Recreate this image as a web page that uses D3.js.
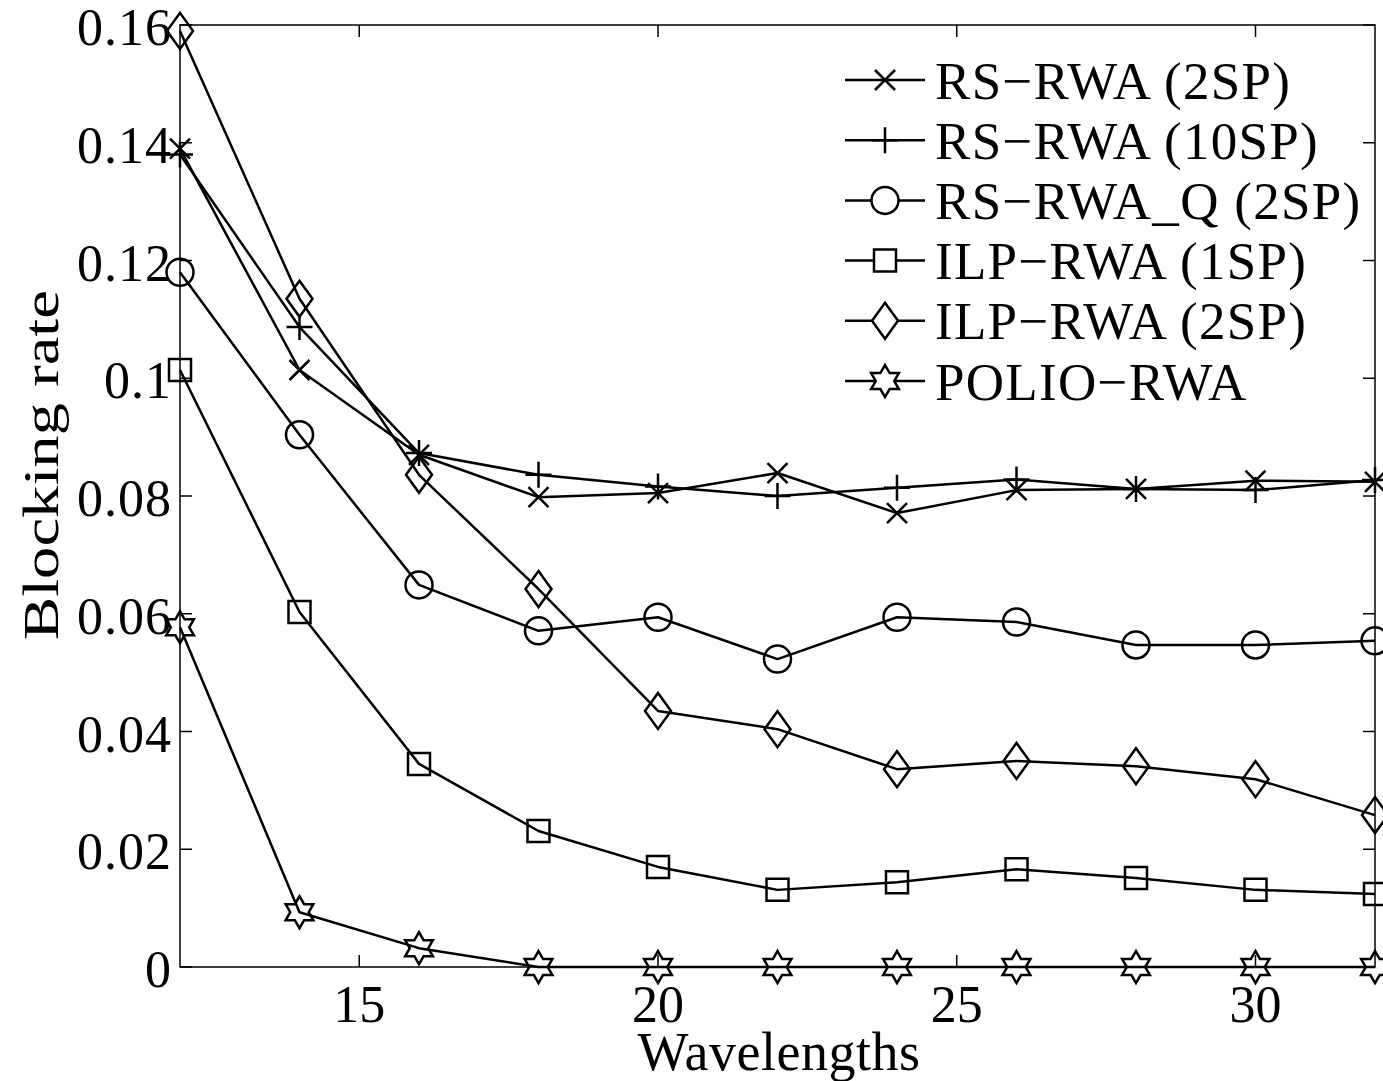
<!DOCTYPE html>
<html>
<head>
<meta charset="utf-8">
<script src="https://cdn.jsdelivr.net/npm/d3@7"></script>
<style>
  html, body { margin: 0; padding: 0; background: #fff; }
  svg text { font-family: "Liberation Serif", "Times New Roman", serif; fill: #000; }
</style>
</head>
<body>
<div id="chart"></div>
<script>
// data
const wavelengths = [12, 14, 16, 18, 20, 22, 24, 26, 28, 30, 32];
const rsRwa2sp   = [0.139, 0.1014, 0.087, 0.0798, 0.0805, 0.0839, 0.0771, 0.081, 0.0812, 0.0826, 0.0824];
const rsRwa10sp  = [0.138, 0.1087, 0.0873, 0.0836, 0.0816, 0.0800, 0.0814, 0.0828, 0.0812, 0.0810, 0.0827];
const rsRwaQ2sp  = [0.118, 0.0904, 0.0649, 0.0571, 0.0594, 0.0523, 0.0594, 0.0586, 0.0547, 0.0547, 0.0554];
const ilpRwa1sp  = [0.1014, 0.0603, 0.0345, 0.0231, 0.0170, 0.0131, 0.0144, 0.0166, 0.0151, 0.0131, 0.0124];
const ilpRwa2sp  = [0.159, 0.1135, 0.0836, 0.0642, 0.0435, 0.0404, 0.0336, 0.0350, 0.0341, 0.0319, 0.0258];
const polioRwa   = [0.0577, 0.0093, 0.0032, 0, 0, 0, 0, 0, 0, 0, 0];
const seriesNames = ['RS\u2212RWA (2SP)', 'RS\u2212RWA (10SP)', 'RS\u2212RWA_Q (2SP)', 'ILP\u2212RWA (1SP)', 'ILP\u2212RWA (2SP)', 'POLIO\u2212RWA'];
const markers = ['x', 'plus', 'circle', 'square', 'diamond', 'hexagram'];
const xTicks = [15, 20, 25, 30];
const yTicks = [0, 0.02, 0.04, 0.06, 0.08, 0.1, 0.12, 0.14, 0.16];
const yTickLabels = ['0', '0.02', '0.04', '0.06', '0.08', '0.1', '0.12', '0.14', '0.16'];

const allSeries = [rsRwa2sp, rsRwa10sp, rsRwaQ2sp, ilpRwa1sp, ilpRwa2sp, polioRwa];

const width = 1383, height = 1081;
const margin = { top: 25, right: 8, bottom: 114, left: 180 };
const plotW = width - margin.left - margin.right;
const plotH = height - margin.top - margin.bottom;

const svg = d3.select('#chart').append('svg')
  .attr('width', width)
  .attr('height', height);

const g = svg.append('g')
  .attr('transform', `translate(${margin.left},${margin.top})`);

const x = d3.scaleLinear().domain([12, 32]).range([0, plotW]);
const y = d3.scaleLinear().domain([0, 0.16]).range([plotH, 0]);

// marker shapes
function markerPath(type) {
  switch (type) {
    case 'x': {
      const s = 10;
      return `M${-s},${-s}L${s},${s}M${-s},${s}L${s},${-s}`;
    }
    case 'plus': {
      const s = 13;
      return `M${-s},0L${s},0M0,${-s}L0,${s}`;
    }
    case 'circle': {
      const r = 13.5;
      return `M${r},0A${r},${r} 0 1,1 ${-r},0A${r},${r} 0 1,1 ${r},0Z`;
    }
    case 'square': {
      const s = 11;
      return `M${-s},${-s}H${s}V${s}H${-s}Z`;
    }
    case 'diamond': {
      const w = 13, h = 18;
      return `M0,${-h}L${w},0L0,${h}L${-w},0Z`;
    }
    case 'hexagram': {
      const R = 16, r = R / Math.sqrt(3);
      const pts = d3.range(12).map(i => {
        const a = -Math.PI / 2 + i * Math.PI / 6;
        const rad = i % 2 === 0 ? R : r;
        return [rad * Math.cos(a), rad * Math.sin(a)];
      });
      return 'M' + pts.map(p => p.join(',')).join('L') + 'Z';
    }
  }
}

// axes box
g.append('rect')
  .attr('x', 0).attr('y', 0)
  .attr('width', plotW).attr('height', plotH)
  .attr('fill', 'none')
  .attr('stroke', '#000')
  .attr('stroke-width', 1.5);

const tickLen = 12;
// x ticks (bottom and top, inward)
xTicks.forEach(t => {
  g.append('line').attr('x1', x(t)).attr('x2', x(t)).attr('y1', plotH).attr('y2', plotH - tickLen)
    .attr('stroke', '#000').attr('stroke-width', 1.5);
  g.append('line').attr('x1', x(t)).attr('x2', x(t)).attr('y1', 0).attr('y2', tickLen)
    .attr('stroke', '#000').attr('stroke-width', 1.5);
  g.append('text')
    .attr('x', x(t)).attr('y', plotH + 55)
    .attr('text-anchor', 'middle')
    .style('font-size', '52px')
    .text(t);
});

// y ticks (left and right, inward)
yTicks.forEach((t, i) => {
  g.append('line').attr('x1', 0).attr('x2', tickLen).attr('y1', y(t)).attr('y2', y(t))
    .attr('stroke', '#000').attr('stroke-width', 1.5);
  g.append('line').attr('x1', plotW).attr('x2', plotW - tickLen).attr('y1', y(t)).attr('y2', y(t))
    .attr('stroke', '#000').attr('stroke-width', 1.5);
  g.append('text')
    .attr('x', -8).attr('y', y(t) + 2)
    .attr('dy', '0.35em')
    .attr('text-anchor', 'end')
    .style('font-size', '52px')
    .style('letter-spacing', '1px')
    .text(yTickLabels[i]);
});

// axis titles
svg.append('text')
  .attr('x', 779)
  .attr('y', 1070)
  .attr('text-anchor', 'middle')
  .style('font-size', '54px')
  .style('letter-spacing', '0.5px')
  .text('Wavelengths');

svg.append('text')
  .attr('transform', `translate(58, 465) rotate(-90)`)
  .attr('text-anchor', 'middle')
  .attr('textLength', 350)
  .attr('lengthAdjust', 'spacingAndGlyphs')
  .style('font-size', '50px')
  .text('Blocking rate');

// series lines and markers
const line = d3.line()
  .x((d, i) => x(wavelengths[i]))
  .y(d => y(d));

allSeries.forEach((vals, si) => {
  g.append('path')
    .datum(vals)
    .attr('d', line)
    .attr('fill', 'none')
    .attr('stroke', '#000')
    .attr('stroke-width', 2.5)
    .attr('stroke-linejoin', 'round');

  g.selectAll(`.m${si}`)
    .data(vals)
    .enter()
    .append('path')
    .attr('class', `m${si}`)
    .attr('transform', (d, i) => `translate(${x(wavelengths[i])},${y(d)})`)
    .attr('d', markerPath(markers[si]))
    .attr('fill', 'none')
    .attr('stroke', '#000')
    .attr('stroke-width', 2.5);
});

// legend
const legend = svg.append('g')
  .attr('transform', 'translate(845, 80)');
const rowH = 60.2;
seriesNames.forEach((name, i) => {
  const row = legend.append('g').attr('transform', `translate(0, ${i * rowH})`);
  row.append('line')
    .attr('x1', 0).attr('x2', 80).attr('y1', 0).attr('y2', 0)
    .attr('stroke', '#000').attr('stroke-width', 2.5);
  row.append('path')
    .attr('transform', 'translate(40,0)')
    .attr('d', markerPath(markers[i]))
    .attr('fill', '#fff')
    .attr('stroke', '#000')
    .attr('stroke-width', 2.5);
  row.append('text')
    .attr('x', 90).attr('y', 0)
    .attr('dy', '0.35em')
    .style('font-size', '53px')
    .style('letter-spacing', '1.3px')
    .text(name);
});
</script>
</body>
</html>
